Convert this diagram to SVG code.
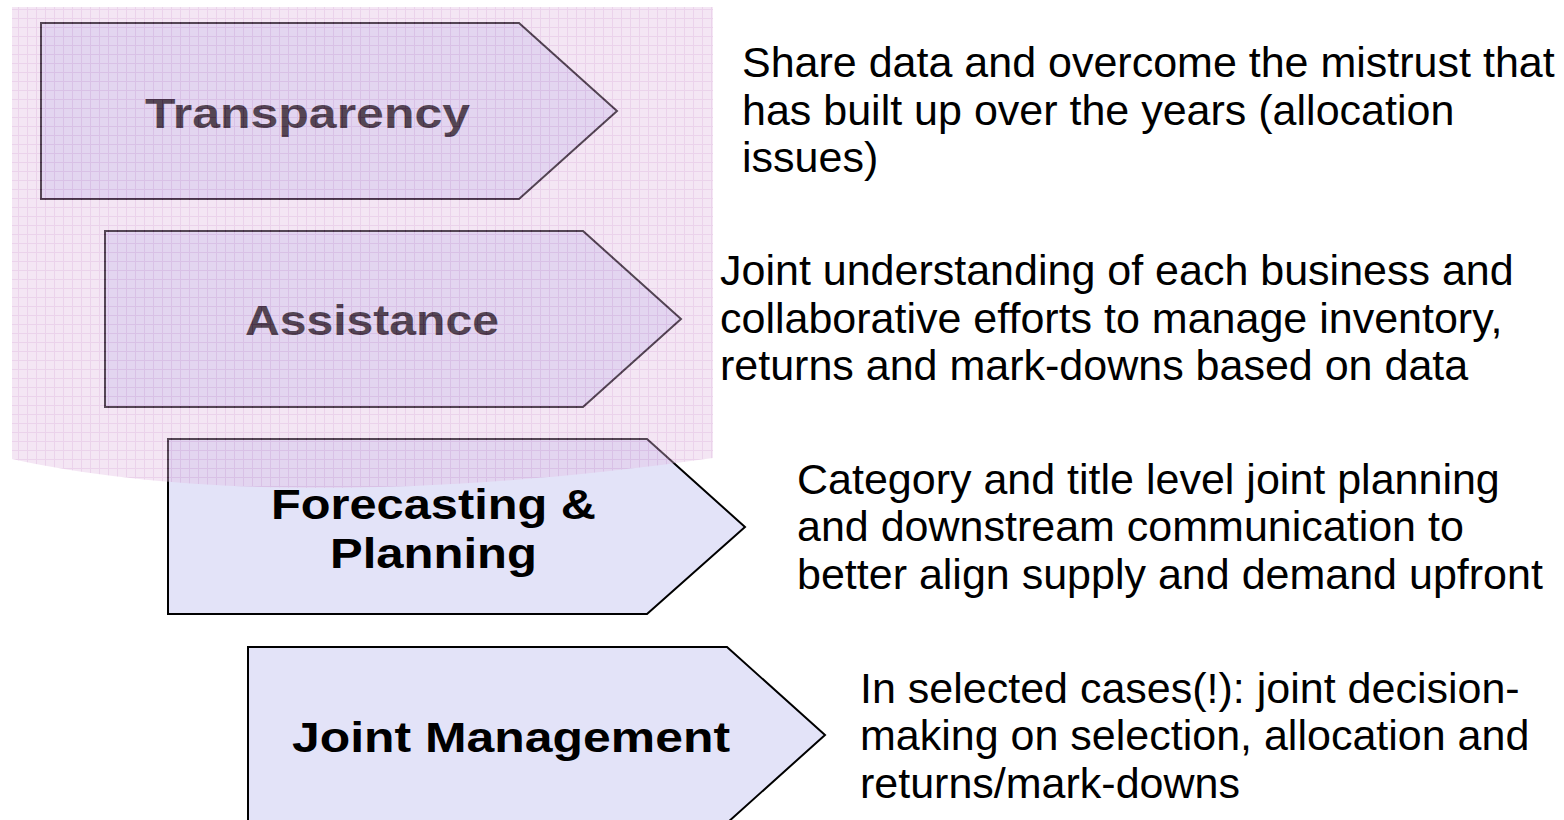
<svg xmlns="http://www.w3.org/2000/svg" width="1564" height="820" viewBox="0 0 1564 820">
<style>
.box{fill:#E3E3F8;stroke:#000;stroke-width:2;stroke-linejoin:miter}
.title{font-family:"Liberation Sans",Arial,sans-serif;font-weight:bold;font-size:42px;fill:#000}
.body{font-family:"Liberation Sans",Arial,sans-serif;font-size:43px;fill:#000}
</style>
<defs>
<pattern id="grid" patternUnits="userSpaceOnUse" width="9" height="9">
<rect width="9" height="9" fill="rgb(226,188,226)"/>
<path d="M0 0.5H9M0.5 0V9" stroke="rgb(200,135,200)" stroke-width="1"/>
</pattern>
</defs>
<rect width="1564" height="820" fill="#fff"/>
<g id="node-transparency">
<polygon class="box" points="41,23 519,23 617,111 519,199 41,199"/>
<text class="title" x="145" y="128" textLength="325" lengthAdjust="spacingAndGlyphs">Transparency</text>
</g>
<g id="node-assistance">
<polygon class="box" points="105,231 583,231 681,319 583,407 105,407"/>
<text class="title" x="245" y="335" textLength="254" lengthAdjust="spacingAndGlyphs">Assistance</text>
</g>
<g id="node-forecasting">
<polygon class="box" points="168,439 647,439 745,527 647,614 168,614"/>
<text class="title" x="271" y="519" textLength="325" lengthAdjust="spacingAndGlyphs">Forecasting &amp;</text>
<text class="title" x="330" y="568" textLength="207" lengthAdjust="spacingAndGlyphs">Planning</text>
</g>
<g id="node-joint">
<polygon class="box" points="248,647 727,647 825,735 727,823 248,823"/>
<text class="title" x="292" y="752" textLength="438" lengthAdjust="spacingAndGlyphs">Joint Management</text>
</g>
<g id="overlay" opacity="0.37">
<path d="M12,7 H713 V458 C450,495 200,500 12,459 Z" fill="url(#grid)"/>
</g>
<g id="connectors"></g>
<g id="desc-transparency">
<text class="body" x="742" y="77">Share data and overcome the mistrust that</text>
<text class="body" x="742" y="125">has built up over the years (allocation</text>
<text class="body" x="742" y="172">issues)</text>
</g>
<g id="desc-assistance">
<text class="body" x="720" y="285">Joint understanding of each business and</text>
<text class="body" x="720" y="333">collaborative efforts to manage inventory,</text>
<text class="body" x="720" y="380">returns and mark-downs based on data</text>
</g>
<g id="desc-forecasting">
<text class="body" x="797" y="494">Category and title level joint planning</text>
<text class="body" x="797" y="541">and downstream communication to</text>
<text class="body" x="797" y="589">better align supply and demand upfront</text>
</g>
<g id="desc-joint">
<text class="body" x="860" y="703">In selected cases(!): joint decision-</text>
<text class="body" x="860" y="750">making on selection, allocation and</text>
<text class="body" x="860" y="798">returns/mark-downs</text>
</g>
</svg>
